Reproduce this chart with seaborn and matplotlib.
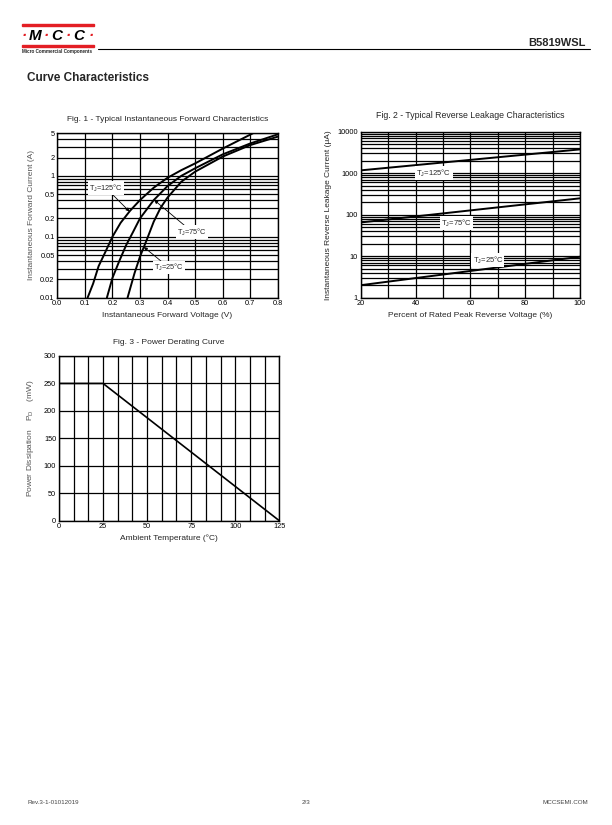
import numpy as np
import pandas as pd
import seaborn as sns
import matplotlib
matplotlib.use("Agg")
import matplotlib.pyplot as plt
from matplotlib.ticker import FixedLocator, NullFormatter, LogLocator, MultipleLocator
from matplotlib.patches import Rectangle

# ---------------- data ----------------
# Fig. 1 forward characteristics (V, A)
v_125 = [0.11, 0.13, 0.15, 0.175, 0.20, 0.23, 0.264, 0.30, 0.35, 0.40, 0.45, 0.50, 0.60, 0.71]
i_125 = [0.01, 0.017, 0.033, 0.057, 0.10, 0.17, 0.267, 0.40, 0.64, 0.93, 1.24, 1.6, 2.8, 5.0]
v_75 = [0.18, 0.20, 0.225, 0.25, 0.275, 0.30, 0.35, 0.40, 0.45, 0.50, 0.60, 0.70, 0.80]
i_75 = [0.01, 0.021, 0.04, 0.073, 0.12, 0.20, 0.40, 0.68, 1.0, 1.33, 2.25, 3.4, 4.8]
v_25 = [0.255, 0.28, 0.30, 0.325, 0.35, 0.375, 0.40, 0.45, 0.50, 0.60, 0.70, 0.80]
i_25 = [0.01, 0.025, 0.047, 0.09, 0.177, 0.30, 0.44, 0.80, 1.17, 2.07, 3.2, 4.4]
fig1_xticks = [0.0, 0.1, 0.2, 0.3, 0.4, 0.5, 0.6, 0.7, 0.8]
fig1_yticks = [0.01, 0.02, 0.05, 0.1, 0.2, 0.5, 1, 2, 5]
fig1_ylabels = ["0.01", "0.02", "0.05", "0.1", "0.2", "0.5", "1", "2", "5"]

# Fig. 2 reverse leakage (% of VRRM, uA)
pct = [20, 100]
ir_125 = [1170, 3750]
ir_75 = [65, 248]
ir_25 = [2.0, 9.7]
fig2_yticks = [1, 10, 100, 1000, 10000]

# Fig. 3 power derating (degC, mW)
temp = [0, 25, 125]
power = [250, 250, 0]
fig3_xticks = [0, 25, 50, 75, 100, 125]
fig3_yticks = [0, 50, 100, 150, 200, 250, 300]

# ---------------- style ----------------
sns.set_style("white")
plt.rcParams["font.family"] = ["Liberation Sans", "DejaVu Sans"]
plt.rcParams["mathtext.fontset"] = "custom"
plt.rcParams["mathtext.rm"] = "Liberation Sans"
plt.rcParams["mathtext.it"] = "Liberation Sans"

fig = plt.figure(figsize=(6.12, 8.25), dpi=100)
W, H = 612.0, 825.0

def ax_rect(x0, y0, x1, y1):
    return [x0 / W, 1 - y1 / H, (x1 - x0) / W, (y1 - y0) / H]

GRID = dict(color="black", linewidth=0.9)
TICKFS = 5.3
LABFS = 6.0
TITFS = 6.0
lab_box = dict(boxstyle="square,pad=0.15", fc="white", ec="none")

def style_axes(ax):
    for s in ax.spines.values():
        s.set_color("black")
        s.set_linewidth(1.0)
    ax.tick_params(which="both", length=0, labelsize=TICKFS, pad=2, colors="black")

# ---------- Fig 1 ----------
ax1 = fig.add_axes(ax_rect(57.3, 133.3, 277.7, 297.7))
df1 = pd.concat([
    pd.DataFrame({"V": v_125, "I": i_125, "T": "125"}),
    pd.DataFrame({"V": v_75, "I": i_75, "T": "75"}),
    pd.DataFrame({"V": v_25, "I": i_25, "T": "25"}),
])
ax1.set_yscale("log")
sns.lineplot(data=df1, x="V", y="I", hue="T", palette=["black"] * 3, sort=False,
             estimator=None, linewidth=1.4, legend=False, ax=ax1, zorder=3)
ax1.set_xlim(0, 0.8)
ax1.set_ylim(0.01, 5)
ax1.xaxis.set_major_locator(FixedLocator(fig1_xticks))
ax1.set_xticklabels([f"{t:.1f}" for t in fig1_xticks])
ax1.yaxis.set_major_locator(FixedLocator(fig1_yticks))
ax1.set_yticklabels(fig1_ylabels)
ax1.yaxis.set_minor_locator(LogLocator(base=10, subs=np.arange(2, 10)))
ax1.yaxis.set_minor_formatter(NullFormatter())
ax1.grid(True, which="both", axis="y", **GRID)
ax1.grid(True, which="major", axis="x", **GRID)
style_axes(ax1)
ax1.set_xlabel("Instantaneous Forward Voltage (V)", fontsize=LABFS, labelpad=3)
ax1.set_ylabel("Instantaneous Forward Current (A)", fontsize=LABFS, color="#555555", labelpad=4)
ax1.set_title("Fig. 1 - Typical Instantaneous Forward Characteristics", fontsize=TITFS, pad=9)
arr = dict(arrowstyle="-|>", lw=0.6, color="black", mutation_scale=5, shrinkA=0, shrinkB=0)
ax1.annotate(r"T$_{J}$=125°C", xy=(0.262, 0.26), xytext=(0.177, 0.63), fontsize=5.3,
             ha="center", va="center", bbox=lab_box, arrowprops=arr, zorder=5)
ax1.annotate(r"T$_{J}$=75°C", xy=(0.352, 0.40), xytext=(0.49, 0.12), fontsize=5.3,
             ha="center", va="center", bbox=lab_box, arrowprops=arr, zorder=5)
ax1.annotate(r"T$_{J}$=25°C", xy=(0.314, 0.068), xytext=(0.406, 0.031), fontsize=5.3,
             ha="center", va="center", bbox=lab_box, arrowprops=arr, zorder=5)

# ---------- Fig 2 ----------
ax2 = fig.add_axes(ax_rect(360.7, 131.7, 580.0, 297.7))
df2 = pd.concat([
    pd.DataFrame({"P": pct, "IR": ir_125, "T": "125"}),
    pd.DataFrame({"P": pct, "IR": ir_75, "T": "75"}),
    pd.DataFrame({"P": pct, "IR": ir_25, "T": "25"}),
])
ax2.set_yscale("log")
sns.lineplot(data=df2, x="P", y="IR", hue="T", palette=["black"] * 3, estimator=None,
             linewidth=1.4, legend=False, ax=ax2, zorder=3)
ax2.set_xlim(20, 100)
ax2.set_ylim(1, 10000)
ax2.xaxis.set_major_locator(FixedLocator([20, 40, 60, 80, 100]))
ax2.xaxis.set_minor_locator(MultipleLocator(10))
ax2.yaxis.set_major_locator(FixedLocator(fig2_yticks))
ax2.set_yticklabels([str(t) for t in fig2_yticks])
ax2.yaxis.set_minor_locator(LogLocator(base=10, subs=np.arange(2, 10)))
ax2.yaxis.set_minor_formatter(NullFormatter())
ax2.grid(True, which="both", **GRID)
style_axes(ax2)
ax2.set_xlabel("Percent of Rated Peak Reverse Voltage (%)", fontsize=LABFS, labelpad=3)
ax2.set_ylabel("Instantaneous Reverse Leakage Current (μA)", fontsize=LABFS, labelpad=4)
ax2.set_title("Fig. 2 - Typical Reverse Leakage Characteristics", fontsize=TITFS + 0.3, pad=10)
ax2.text(46.7, 1010, r"T$_{J}$=125°C", fontsize=5.5, ha="center", va="center", bbox=lab_box, zorder=5)
ax2.text(54.8, 63, r"T$_{J}$=75°C", fontsize=5.5, ha="center", va="center", bbox=lab_box, zorder=5)
ax2.text(66.4, 8.1, r"T$_{J}$=25°C", fontsize=5.5, ha="center", va="center", bbox=lab_box, zorder=5)

# ---------- Fig 3 ----------
ax3 = fig.add_axes(ax_rect(59.0, 356.0, 279.3, 520.7))
sns.lineplot(x=temp, y=power, color="black", linewidth=1.2, ax=ax3, zorder=3)
ax3.set_xlim(0, 125)
ax3.set_ylim(0, 300)
ax3.xaxis.set_major_locator(FixedLocator(fig3_xticks))
ax3.xaxis.set_minor_locator(MultipleLocator(25 / 3))
ax3.yaxis.set_major_locator(FixedLocator(fig3_yticks))
ax3.grid(True, which="both", axis="x", **GRID)
ax3.grid(True, which="major", axis="y", **GRID)
style_axes(ax3)
ax3.set_xlabel("Ambient Temperature (°C)", fontsize=LABFS, labelpad=3)
ax3.set_ylabel(r"Power Dissipation    P$_{D}$    (mW)", fontsize=LABFS, color="#555555", labelpad=6)
ax3.set_title("Fig. 3 - Power Derating Curve", fontsize=TITFS, pad=9)

# ---------- header / footer ----------
red = "#e31e24"
fig.patches.append(Rectangle((22 / W, 1 - 26 / H), 72 / W, 1.6 / H, transform=fig.transFigure,
                             color=red, zorder=5))
fig.patches.append(Rectangle((22 / W, 1 - 46.5 / H), 72 / W, 1.6 / H, transform=fig.transFigure,
                             color=red, zorder=5))
logo = [("·", 24, red), ("M", 35, "black"), ("·", 46.5, red), ("C", 57, "black"),
        ("·", 68, red), ("C", 79, "black"), ("·", 91, red)]
for ch, xx, col in logo:
    fig.text(xx / W, 1 - 36 / H, ch, fontsize=11, fontweight="bold", style="italic",
             color=col, ha="center", va="center")
fig.text(22 / W, 1 - 52 / H, "Micro Commercial Components", fontsize=3.3, fontweight="bold",
         ha="left", va="center")
fig.add_artist(plt.Line2D([98 / W, 590 / W], [1 - 49 / H, 1 - 49 / H], color="black", lw=0.8,
                          transform=fig.transFigure))
fig.text(586 / W, 1 - 42.5 / H, "B5819WSL", fontsize=8, fontweight="bold", ha="right", va="center")
fig.text(27 / W, 1 - 78 / H, "Curve Characteristics", fontsize=8.5, fontweight="bold", ha="left",
         va="center")
fig.text(27 / W, 1 - 802 / H, "Rev.3-1-01012019", fontsize=4.5, color="#444444", ha="left", va="center")
fig.text(306 / W, 1 - 802 / H, "2/3", fontsize=4.5, color="#444444", ha="center", va="center")
fig.text(588 / W, 1 - 802 / H, "MCCSEMI.COM", fontsize=4.5, color="#444444", ha="right", va="center")

fig.savefig("out.png", dpi=100)
